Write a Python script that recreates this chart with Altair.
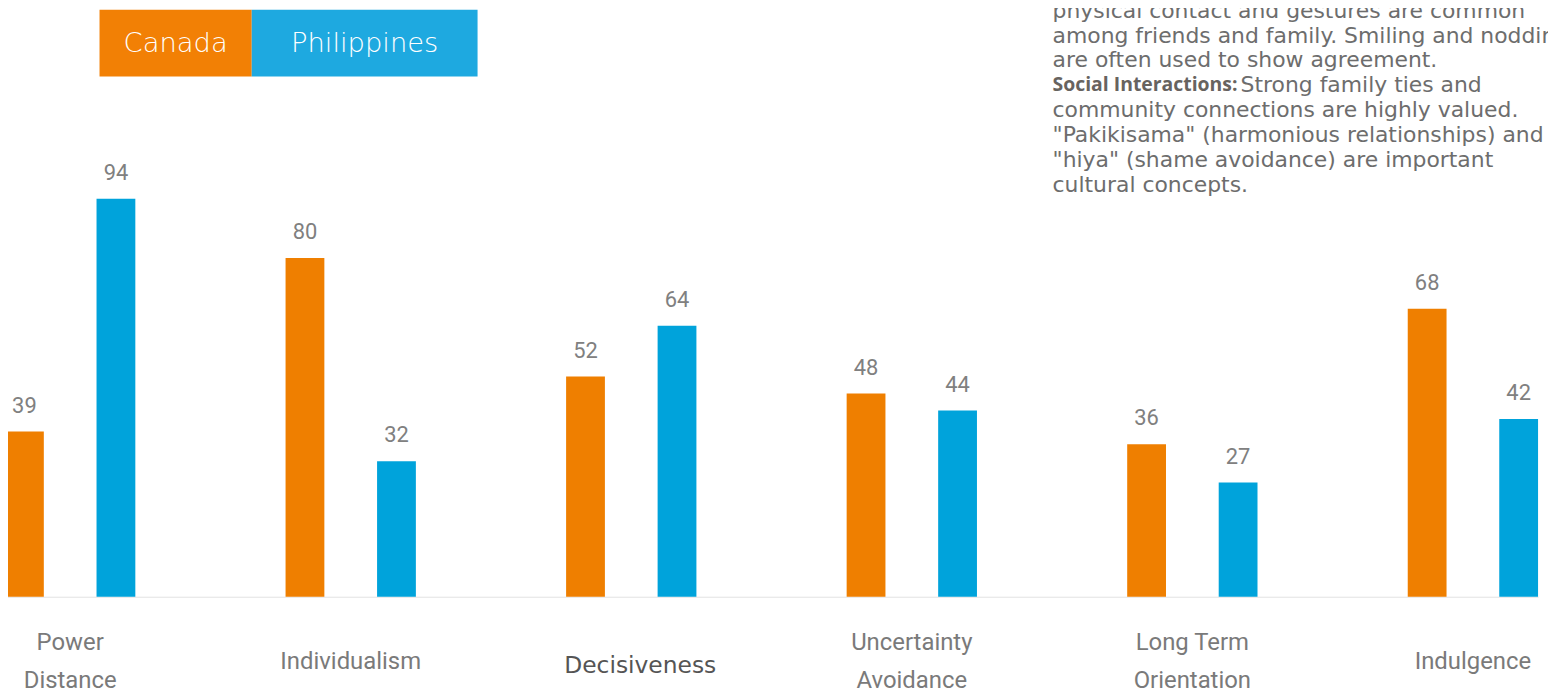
import altair as alt
import pandas as pd

categories = ["Power Distance", "Individualism", "Decisiveness",
              "Uncertainty Avoidance", "Long Term Orientation", "Indulgence"]
category_labels = ["Power\nDistance", "Individualism", "Decisiveness",
                   "Uncertainty\nAvoidance", "Long Term\nOrientation", "Indulgence"]
countries = ["Canada", "Philippines"]
canada = [39, 80, 52, 48, 36, 68]
philippines = [94, 32, 64, 44, 27, 42]
bar_colors = ["#EF7F00", "#00A3DB"]
legend_colors = ["#F28005", "#1EA9E0"]

para_top = ["physical contact and gestures are common",
            "among friends and family. Smiling and nodding",
            "are often used to show agreement."]
para_bold = "Social Interactions:"
para_rest = "Strong family ties and"
para_bottom = ["community connections are highly valued.",
               "\"Pakikisama\" (harmonious relationships) and",
               "\"hiya\" (shame avoidance) are important",
               "cultural concepts."]

rows = []
for c, vals in zip(countries, [canada, philippines]):
    for cat, v in zip(categories, vals):
        rows.append({"category": cat, "country": c, "value": v})
df = pd.DataFrame(rows)
df_cat = pd.DataFrame({"category": categories, "label": category_labels})

LABEL_FONT = "Roboto"
PARA_FONT = "DejaVu Sans"

x_main = alt.X("category:N", sort=categories,
               scale=alt.Scale(range=[-3, 1538], paddingInner=0.5355, paddingOuter=0),
               axis=alt.Axis(title=None, labels=False, ticks=False, grid=False,
                             domain=True, domainColor="#e2e2e2", domainWidth=1))
x_sub = alt.X("category:N", sort=categories)
x_off = alt.XOffset("country:N", sort=countries,
                    scale=alt.Scale(paddingInner=0.576, paddingOuter=0))
y_enc = alt.Y("value:Q", scale=alt.Scale(domain=[0, 138.65], nice=False), axis=None)
color_enc = alt.Color("country:N", scale=alt.Scale(domain=countries, range=bar_colors), legend=None)

base = alt.Chart(df)
bars = base.mark_bar().encode(x=x_main, xOffset=x_off, y=y_enc, color=color_enc)
values = base.mark_text(dy=-26, baseline="middle", font=LABEL_FONT, fontSize=22,
                        color="#808080").encode(x=x_sub, xOffset=x_off, y=y_enc, text="value:Q")

cat_base = alt.Chart(df_cat)
is_multi = "indexof(datum.label, '\\n') >= 0"
cat_multi = cat_base.transform_filter(is_multi).mark_text(
    baseline="middle", align="center", font=LABEL_FONT, fontSize=24, color="#7a7a7a",
    lineBreak="\n", lineHeight=38).encode(x=x_sub, y=alt.value(637), text="label:N")
cat_single = cat_base.transform_filter(
    f"!({is_multi}) && datum.category != 'Decisiveness'").mark_text(
    baseline="middle", align="center", font=LABEL_FONT, fontSize=24, color="#7a7a7a").encode(
    x=x_sub, y=alt.value(656), text="label:N")
cat_dec = cat_base.transform_filter(alt.datum.category == "Decisiveness").mark_text(
    baseline="middle", align="center", font=PARA_FONT, fontSize=23.5, color="#555555",
    dx=9).encode(x=x_sub, y=alt.value(660), text="label:N")

# legend boxes
leg_layers = []
leg_x = [(92, 245), (245, 472)]
for c, col, (x0, x1) in zip(countries, legend_colors, leg_x):
    d = alt.Chart(pd.DataFrame({"country": [c]}))
    leg_layers.append(d.mark_rect(color=col).encode(
        x=alt.value(x0), x2=alt.value(x1), y=alt.value(0), y2=alt.value(67)))
    leg_layers.append(d.mark_text(color="white", font="DejaVu Sans", fontWeight=200, fontSize=27.5,
                                  align="center", baseline="middle").encode(
        x=alt.value((x0 + x1) / 2), y=alt.value(34), text="country:N"))

# paragraph
para_color = "#6d6d6d"
PS = 22
p1 = alt.Chart(pd.DataFrame({"t": ["\n".join(para_top)]})).mark_text(
    align="left", baseline="middle", font=PARA_FONT, fontSize=PS, color=para_color,
    lineBreak="\n", lineHeight=25).encode(x=alt.value(1050), y=alt.value(1), text="t:N")
p2 = alt.Chart(pd.DataFrame({"t": [para_bold]})).mark_text(
    align="left", baseline="middle", font="Open Sans", fontSize=19.5, fontWeight="bold",
    color="#67635f").encode(x=alt.value(1050), y=alt.value(76), text="t:N")
p3 = alt.Chart(pd.DataFrame({"t": [para_rest]})).mark_text(
    align="left", baseline="middle", font=PARA_FONT, fontSize=PS, color=para_color).encode(
    x=alt.value(1239), y=alt.value(76), text="t:N")
p4 = alt.Chart(pd.DataFrame({"t": ["\n".join(para_bottom)]})).mark_text(
    align="left", baseline="middle", font=PARA_FONT, fontSize=PS, color=para_color,
    lineBreak="\n", lineHeight=25).encode(x=alt.value(1050), y=alt.value(101), text="t:N")

chart = alt.layer(bars, values, cat_multi, cat_single, cat_dec, *leg_layers, p1, p2, p3, p4).properties(
    width=1541, height=590, autosize="none",
    padding={"left": 0, "top": 0, "right": 7, "bottom": 96},
    background="white",
).configure_view(stroke=None)

chart.save("out.html", embed_options={"renderer": "svg", "actions": False})
